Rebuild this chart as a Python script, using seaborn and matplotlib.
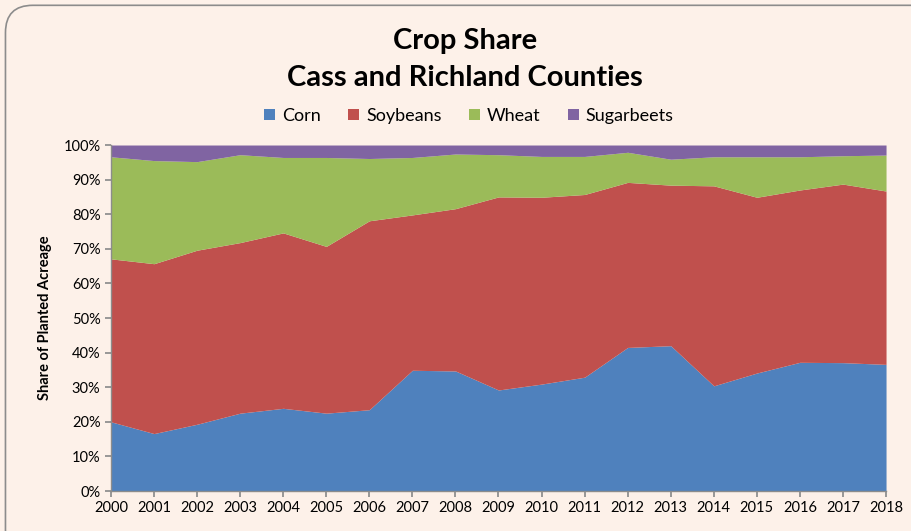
"""Crop share stacked area chart, Cass and Richland Counties."""

import matplotlib

matplotlib.use("Agg")
import matplotlib.pyplot as plt
import numpy as np
import pandas as pd
import seaborn as sns
from matplotlib.patches import FancyBboxPatch, Patch
from matplotlib.ticker import PercentFormatter

years = list(range(2000, 2019))
crops = ["Corn", "Soybeans", "Wheat", "Sugarbeets"]

# shares of planted acreage, percent
corn = [20.0, 16.6, 19.3, 22.5, 23.9, 22.5, 23.5, 34.9, 34.7, 29.2,
        30.9, 32.9, 41.5, 42.0, 30.4, 34.1, 37.2, 37.1, 36.6]
soybeans = [47.1, 49.1, 50.3, 49.3, 50.7, 48.2, 54.6, 44.9, 46.9, 55.8,
            54.0, 52.8, 47.7, 46.4, 57.8, 50.8, 49.8, 51.6, 50.1]
wheat = [29.5, 29.8, 25.6, 25.4, 21.8, 25.7, 18.0, 16.6, 15.8, 12.2,
         11.8, 11.0, 8.7, 7.5, 8.4, 11.7, 9.6, 8.2, 10.4]
sugarbeets = [3.4, 4.5, 4.8, 2.8, 3.6, 3.6, 3.9, 3.6, 2.6, 2.8,
              3.3, 3.3, 2.1, 4.1, 3.4, 3.4, 3.4, 3.1, 2.9]

COLORS = ["#4F81BD", "#C0504D", "#9BBB59", "#8064A2"]
BG = "#FDF1E9"

df = pd.DataFrame(
    {"Corn": corn, "Soybeans": soybeans, "Wheat": wheat, "Sugarbeets": sugarbeets},
    index=years,
)
shares = df.div(df.sum(axis=1), axis=0)

sns.set_theme(style="ticks")
plt.rcParams["font.family"] = ["Lato", "DejaVu Sans"]
plt.rcParams["text.color"] = "black"

fig = plt.figure(figsize=(9.11, 5.31), dpi=100, facecolor=BG)
border = FancyBboxPatch(
    (0.006, -0.05), 1.1, 1.04,
    boxstyle="round,pad=0,rounding_size=0.03",
    transform=fig.transFigure, facecolor="none", edgecolor="#8C8C8C", linewidth=1.2,
    mutation_aspect=911 / 531, zorder=5,
)
fig.patches.append(border)

ax = fig.add_axes([0.1218, 0.0753, 0.8508, 0.6516])
ax.set_facecolor(BG)
ax.stackplot(shares.index, [shares[c].values for c in crops], colors=COLORS,
             labels=crops, linewidth=0)

ax.set_xlim(years[0], years[-1])
ax.set_ylim(0, 1)
ax.set_xticks(years)
ax.set_xticklabels([str(y) for y in years])
ax.set_yticks(np.arange(0, 1.01, 0.1))
ax.yaxis.set_major_formatter(PercentFormatter(1.0, decimals=0))
ax.tick_params(axis="both", labelsize=10.5, length=4, colors="#8C8C8C", labelcolor="black")
for side in ["top", "right"]:
    ax.spines[side].set_visible(False)
for side in ["left", "bottom"]:
    ax.spines[side].set_color("#8C8C8C")
    ax.spines[side].set_linewidth(1.0)
ax.set_ylabel("Share of Planted Acreage", fontsize=10.5, fontweight="bold",
              labelpad=8, color="black")

fig.text(0.51, 0.922, "Crop Share", ha="center", va="center", fontsize=21, fontweight="bold")
fig.text(0.51, 0.853, "Cass and Richland Counties", ha="center", va="center",
         fontsize=21, fontweight="bold")

handles = [Patch(facecolor=c, edgecolor="none") for c in COLORS]
fig.legend(handles, crops, loc="center", bbox_to_anchor=(0.515, 0.782), ncol=4,
           frameon=False, fontsize=13, handlelength=0.6, handleheight=0.6,
           handletextpad=0.4, columnspacing=1.5)

fig.savefig("out.png", dpi=100, facecolor=BG)
